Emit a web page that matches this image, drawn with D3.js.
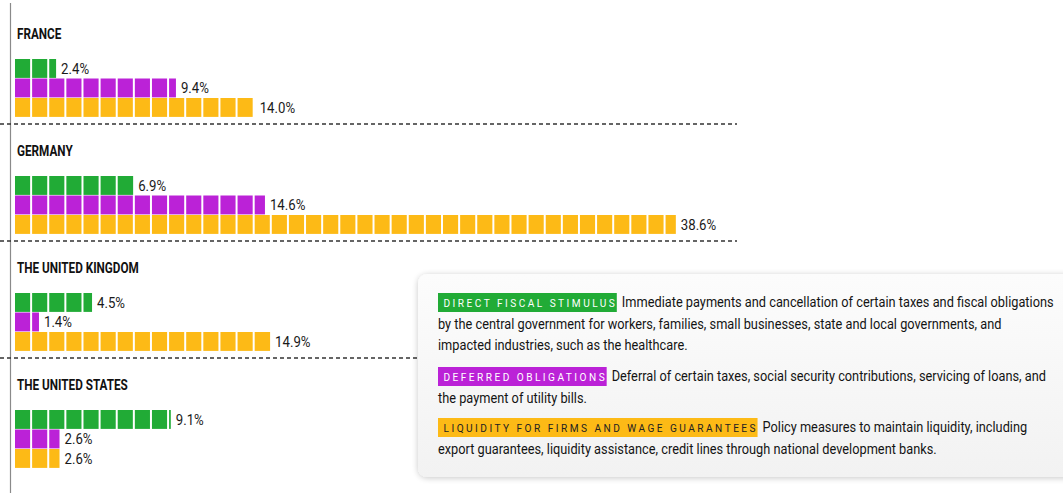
<!DOCTYPE html>
<html><head><meta charset="utf-8">
<script src="https://cdn.jsdelivr.net/npm/d3@7"></script>
<style>
html,body{margin:0;padding:0;background:#fff;}
svg{display:block;}
text{font-family:"Roboto","Liberation Sans",sans-serif;}
</style></head>
<body><svg id="c" width="1063" height="493"></svg>
<script>
const countries = ["FRANCE", "GERMANY", "THE UNITED KINGDOM", "THE UNITED STATES"];
const seriesNames = ["DIRECT FISCAL STIMULUS", "DEFERRED OBLIGATIONS", "LIQUIDITY FOR FIRMS AND WAGE GUARANTEES"];
const directFiscal = [2.4, 6.9, 4.5, 9.1];
const deferredObligations = [9.4, 14.6, 1.4, 2.6];
const liquidityGuarantees = [14.0, 38.6, 14.9, 2.6];
const seriesColors = ["#21ab36", "#bb22d7", "#fdba16"];
const legendDescriptions = [
  ["Immediate payments and cancellation of certain taxes and fiscal obligations",
   "by the central government for workers, families, small businesses, state and local governments, and",
   "impacted industries, such as the healthcare."],
  ["Deferral of certain taxes, social security contributions, servicing of loans, and",
   "the payment of utility bills."],
  ["Policy measures to maintain liquidity, including",
   "export guarantees, liquidity assistance, credit lines through national development banks."]
];

const seriesValues = [directFiscal, deferredObligations, liquidityGuarantees];
const svg = d3.select("#c");
const defs = svg.append("defs");
const f = defs.append("filter").attr("id","sh").attr("x","-10%").attr("y","-10%").attr("width","120%").attr("height","130%");
f.append("feGaussianBlur").attr("in","SourceAlpha").attr("stdDeviation",3).attr("result","b");
f.append("feOffset").attr("in","b").attr("dx",0).attr("dy",1).attr("result","o");
f.append("feComponentTransfer").attr("in","o").attr("result","o2").append("feFuncA").attr("type","linear").attr("slope",0.22);
const m = f.append("feMerge"); m.append("feMergeNode").attr("in","o2"); m.append("feMergeNode").attr("in","SourceGraphic");
const g = defs.append("linearGradient").attr("id","lg").attr("x1",0).attr("y1",0).attr("x2",0).attr("y2",1);
g.append("stop").attr("offset","0%").attr("stop-color","#fcfcfc");
g.append("stop").attr("offset","100%").attr("stop-color","#f2f2f2");

// narrow text helper (horizontal compression to mimic a condensed face)
function ntext(sel, tx, ty, sx, str) {
  return sel.append("text").attr("x",0).attr("y",0)
    .attr("transform", `translate(${tx},${ty}) scale(${sx},1)`).text(str);
}

const unit = 17.12;
const x = d3.scaleLinear().domain([0, 40]).range([15, 15 + 40 * unit]);
const blockY = d3.scaleBand().domain(countries).range([0, 468]);

// left vertical rule
svg.append("line").attr("x1",10.5).attr("x2",10.5).attr("y1",3).attr("y2",493)
  .attr("stroke","#8a8a8a").attr("stroke-width",1.2);

countries.forEach((c, ci) => {
  const y0 = blockY(c);
  const gb = svg.append("g");
  ntext(gb, 17, y0+39, 0.85, c).attr("font-size",13.8).attr("font-weight","bold").attr("fill","#111");
  const rowY = d3.scaleBand().domain(seriesNames).range([y0+59, y0+59+58.5]);
  seriesNames.forEach((s, si) => {
    const v = seriesValues[si][ci];
    const units = d3.range(Math.ceil(v));
    gb.selectAll(null).data(units).join("rect")
      .attr("x", i => x(i))
      .attr("y", rowY(s))
      .attr("width", i => (i + 1 <= v) ? x(i+1) - x(i) - 2 : Math.max(1, x(v) - x(i)))
      .attr("height", rowY.bandwidth() - 0.6)
      .attr("fill", seriesColors[si]);
    ntext(gb, x(v) + 5, rowY(s) + rowY.bandwidth()/2 + 5, 0.88, v.toFixed(1) + "%")
      .attr("font-size",15).attr("fill","#1a1a1a");
  });
  if (ci < countries.length - 1) {
    svg.append("line").attr("x1",0).attr("x2",737).attr("y1",y0+124).attr("y2",y0+124)
      .attr("stroke","#333").attr("stroke-width",1.4).attr("stroke-dasharray","4,3");
  }
});

// legend panel
svg.append("rect").attr("x",418).attr("y",274).attr("width",680).attr("height",203).attr("rx",9)
  .attr("fill","url(#lg)").attr("filter","url(#sh)");

const tagY = [293, 367, 418];
const lineH = 21.5;
const sx = 0.9;
seriesNames.forEach((s, si) => {
  const ty = tagY[si];
  const tg = svg.append("g");
  const rect = tg.append("rect").attr("x",438).attr("y",ty).attr("height",19).attr("fill",seriesColors[si]);
  const t = ntext(tg, 443.5, ty+14, 0.88, s).attr("font-size",11.5)
    .attr("letter-spacing","2.8px").attr("fill", si === 2 ? "#222" : "#fff");
  const w = t.node().getComputedTextLength() * 0.88;
  rect.attr("width", w + 5);
  legendDescriptions[si].forEach((ln, li) => {
    ntext(svg, li === 0 ? 438 + w + 5 + 5 : 438, ty + 14 + li*lineH, sx, ln)
      .attr("font-size",14.2).attr("fill","#141414");
  });
});
</script></body></html>
